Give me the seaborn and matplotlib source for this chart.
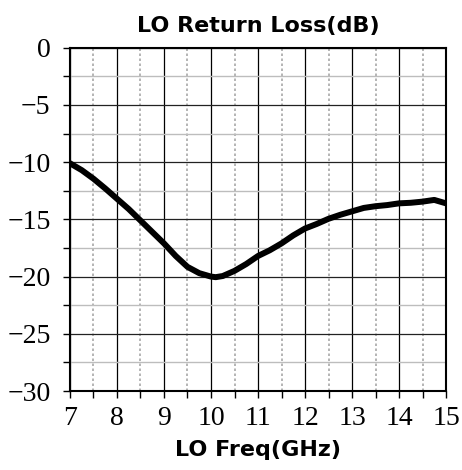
import numpy as np
import pandas as pd
import matplotlib
matplotlib.use("Agg")
import matplotlib.pyplot as plt
from matplotlib.ticker import MultipleLocator
import seaborn as sns

# ==============================
# DATA
# ==============================

freq_ghz = [7.0, 7.25, 7.5, 7.75, 8.0, 8.25, 8.5, 8.75, 9.0, 9.25, 9.5, 9.75,
            10.0, 10.1, 10.25, 10.5, 10.75, 11.0, 11.25, 11.5, 11.75, 12.0,
            12.25, 12.5, 12.75, 13.0, 13.25, 13.5, 13.75, 14.0, 14.25, 14.5,
            14.75, 15.0]
return_loss_db = [-10.1, -10.7, -11.45, -12.3, -13.2, -14.1, -15.1, -16.1,
                  -17.1, -18.2, -19.15, -19.7, -20.0, -20.05, -19.95, -19.5,
                  -18.9, -18.2, -17.7, -17.1, -16.4, -15.8, -15.4, -14.95,
                  -14.6, -14.3, -14.0, -13.85, -13.75, -13.6, -13.55, -13.45,
                  -13.3, -13.6]

title_text = "LO Return Loss(dB)"
xlabel_text = "LO Freq(GHz)"

df = pd.DataFrame({"freq": freq_ghz, "rl": return_loss_db})

# ==============================
# STYLE
# ==============================

sns.set_style("white")
plt.rcParams["axes.unicode_minus"] = True
plt.rcParams["text.color"] = "black"
plt.rcParams["xtick.color"] = "black"
plt.rcParams["ytick.color"] = "black"

fig = plt.figure(figsize=(4.62, 4.70), dpi=100)
ax = fig.add_axes([0.1515, 0.168, 0.8139, 0.7305])

sns.lineplot(data=df, x="freq", y="rl", ax=ax, color="black", linewidth=4.3)

ax.set_xlim(7, 15)
ax.set_ylim(-30, 0)
ax.xaxis.set_major_locator(MultipleLocator(1))
ax.xaxis.set_minor_locator(MultipleLocator(0.5))
ax.yaxis.set_major_locator(MultipleLocator(5))
ax.yaxis.set_minor_locator(MultipleLocator(2.5))

# grid
ax.grid(which="major", axis="x", color="black", linewidth=0.9, linestyle="-")
ax.grid(which="minor", axis="x", color="#a8a8a8", linewidth=1.2, linestyle=(0, (1.5, 1.5)))
ax.grid(which="major", axis="y", color="#222222", linewidth=0.9, linestyle="-")
ax.grid(which="minor", axis="y", color="#bdbdbd", linewidth=1.0, linestyle="-")
ax.set_axisbelow(True)

for side in ["left", "bottom", "top", "right"]:
    ax.spines[side].set_visible(True)
    ax.spines[side].set_color("black")
    ax.spines[side].set_linewidth(1.5)

ax.tick_params(which="both", direction="out", length=5, width=1, color="black",
               left=True, bottom=True, top=False, right=False)
ax.tick_params(axis="y", which="major", pad=9)
ax.tick_params(axis="x", which="major", pad=6)

for lab in ax.get_xticklabels() + ax.get_yticklabels():
    lab.set_fontfamily("Liberation Serif")
    lab.set_fontsize(20)
    lab.set_color("black")

ax.set_title(title_text, fontsize=16, fontweight="bold", family="DejaVu Sans",
             color="black", pad=11)
ax.set_xlabel(xlabel_text, fontsize=16, fontweight="bold", family="DejaVu Sans",
              color="black", labelpad=6)
ax.set_ylabel("")

plt.savefig("out.png", dpi=100)
plt.close()
